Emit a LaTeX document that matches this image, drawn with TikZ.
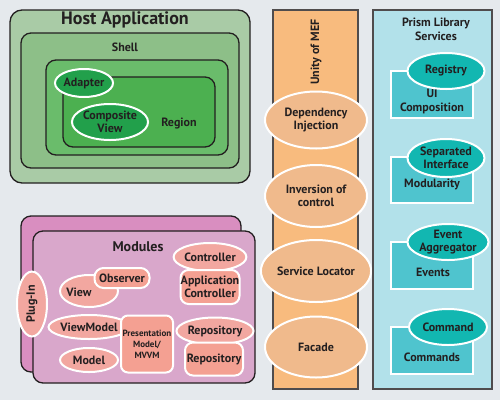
\documentclass[tikz,border=0pt]{standalone}
\usepackage{fontspec}
\setmainfont{PT Sans}
\usetikzlibrary{shapes.geometric}
\definecolor{bg}{HTML}{E5E9ED}
\definecolor{hostc}{HTML}{A9CBA6}
\definecolor{shellc}{HTML}{8DBF88}
\definecolor{innerc}{HTML}{6ABC6B}
\definecolor{regionc}{HTML}{4CB050}
\definecolor{darkg}{HTML}{22A04B}
\definecolor{modback}{HTML}{D98EC0}
\definecolor{modfront}{HTML}{D9A7CB}
\definecolor{salmon}{HTML}{F4A092}
\definecolor{salmonl}{HTML}{F2A7A0}
\definecolor{unityc}{HTML}{F8BB7E}
\definecolor{unityel}{HTML}{F0BA8C}
\definecolor{prismc}{HTML}{B2E1EA}
\definecolor{tealr}{HTML}{4FC4CE}
\definecolor{teale}{HTML}{12B7B1}
\definecolor{ink}{HTML}{231F20}
\tikzset{
  box/.style={draw=ink, line width=1.3pt, rounded corners=#1, inner sep=0pt},
  box/.default=10pt,
  col/.style={draw=ink!80, line width=1.3pt, inner sep=0pt},
  wellipse/.style={ellipse, draw=white, line width=2pt, inner sep=0pt, align=center, text=ink, font=\bfseries\fontsize{12}{13}\selectfont},
  wround/.style={draw=white, line width=2pt, rounded corners=#1, inner sep=0pt, align=center, text=ink, font=\bfseries\fontsize{12}{13}\selectfont},
  wround/.default=8pt,
  wrect/.style={draw=white, line width=2pt, inner sep=0pt, align=center, text=ink},
  lbl/.style={inner sep=0pt, text=ink, align=center, font=\bfseries\fontsize{12}{14}\selectfont},
}
\begin{document}
\begin{tikzpicture}[x=1pt,y=-1pt]
\fill[bg] (0,0) rectangle (500,400);
\useasboundingbox (0,0) rectangle (500,400);
% Host application
\node[box=12pt, fill=hostc, minimum width=240pt, minimum height=173pt] (host) at (130,96.5) {};
\node[lbl, font=\bfseries\fontsize{18}{18}\selectfont] (hostt) at (125,20) {Host Application};
\node[box, fill=shellc, minimum width=218pt, minimum height=135pt] (shell) at (130,100.5) {};
\node[lbl] (shellt) at (125,47) {Shell};
\node[box, fill=innerc, minimum width=182pt, minimum height=95pt] (inner) at (137,107.5) {};
\node[box, fill=regionc, minimum width=152pt, minimum height=70pt] (region) at (139,112) {};
\node[lbl] (regiont) at (179,123) {Region};
\node[wellipse, fill=darkg, minimum width=58pt, minimum height=28pt] (adapter) at (84,83) {Adapter};
\node[wellipse, fill=darkg, minimum width=70pt, minimum height=36pt] (comp) at (110,122) {Composite\\View};
% Modules
\node[box=10pt, fill=modback, minimum width=220pt, minimum height=156pt] (modb) at (131,294) {};
\node[box=10pt, fill=modfront, minimum width=222pt, minimum height=152pt] (modf) at (144,307) {};
\node[lbl, font=\bfseries\fontsize{14}{14}\selectfont] (modt) at (138,247) {Modules};
\node[wellipse, fill=salmonl, minimum width=30pt, minimum height=65pt] (plugin) at (32,304) {};
\node[lbl, rotate=90] (plugint) at (32,304) {Plug-In};
\node[wellipse, fill=salmonl, minimum width=58pt, minimum height=32pt] (view) at (89,291) {};
\node[lbl] (viewt) at (79,292) {View};
\node[wround=9pt, fill=salmon, minimum width=55pt, minimum height=20pt] (obs) at (122,278) {Observer};
\node[wellipse, fill=salmonl, minimum width=69pt, minimum height=28pt] (ctrl) at (210,257) {Controller};
\node[wround, fill=salmon, minimum width=59pt, minimum height=34pt] (appc) at (210,287) {Application\\Controller};
\node[wellipse, fill=salmonl, minimum width=58pt, minimum height=24pt] (vm) at (89,327) {ViewModel};
\node[wellipse, fill=salmonl, minimum width=58pt, minimum height=24pt] (model) at (89,360) {Model};
\node[wround=7pt, fill=salmon, minimum width=52pt, minimum height=57pt, font=\bfseries\fontsize{9}{11}\selectfont] (pm) at (147,344) {Presentation\\Model/\\MVVM};
\node[wellipse, fill=salmonl, minimum width=68pt, minimum height=27pt] (repo1) at (215,331) {Repository};
\node[wround, fill=salmon, minimum width=58pt, minimum height=33pt] (repo2) at (214,359) {Repository};
% Unity
\node[col, fill=unityc, minimum width=85pt, minimum height=379pt] (unity) at (315.5,199.5) {};
\node[lbl, rotate=90] (unityt) at (316,52) {Unity of MEF};
\node[wellipse, fill=unityel, minimum width=102pt, minimum height=57pt] (di) at (316,120) {Dependency\\Injection};
\node[wellipse, fill=unityel, minimum width=102pt, minimum height=62pt] (ioc) at (316,196) {Inversion of\\control};
\node[wellipse, fill=unityel, minimum width=102pt, minimum height=62pt] (sl) at (316,271) {Service Locator};
\node[wellipse, fill=unityel, minimum width=102pt, minimum height=61pt] (fac) at (316,347) {Facade};
% Prism
\node[col, fill=prismc, minimum width=119pt, minimum height=379pt] (prism) at (432.5,199.5) {};
\node[lbl] (prismt) at (436,29) {Prism Library\\Services};
\node[wrect, fill=tealr, minimum width=82pt, minimum height=47pt] (r1) at (432,94.5) {};
\node[lbl] (r1t) at (432,101) {UI\\Composition};
\node[wellipse, fill=teale, minimum width=77pt, minimum height=36pt] (e1) at (446,71) {Registry};
\node[wrect, fill=tealr, minimum width=82pt, minimum height=46pt] (r2) at (432,180) {};
\node[lbl] (r2t) at (432,184) {Modularity};
\node[wellipse, fill=teale, minimum width=77pt, minimum height=38pt] (e2) at (446,158) {Separated\\Interface};
\node[wrect, fill=tealr, minimum width=82pt, minimum height=47pt] (r3) at (432,265.5) {};
\node[lbl] (r3t) at (433,272) {Events};
\node[wellipse, fill=teale, minimum width=78pt, minimum height=36pt] (e3) at (448,242) {Event\\Aggregator};
\node[wrect, fill=tealr, minimum width=82pt, minimum height=47pt] (r4) at (432,350.5) {};
\node[lbl] (r4t) at (432,357) {Commands};
\node[wellipse, fill=teale, minimum width=78pt, minimum height=36pt] (e4) at (448,327) {Command};
\end{tikzpicture}
\end{document}
